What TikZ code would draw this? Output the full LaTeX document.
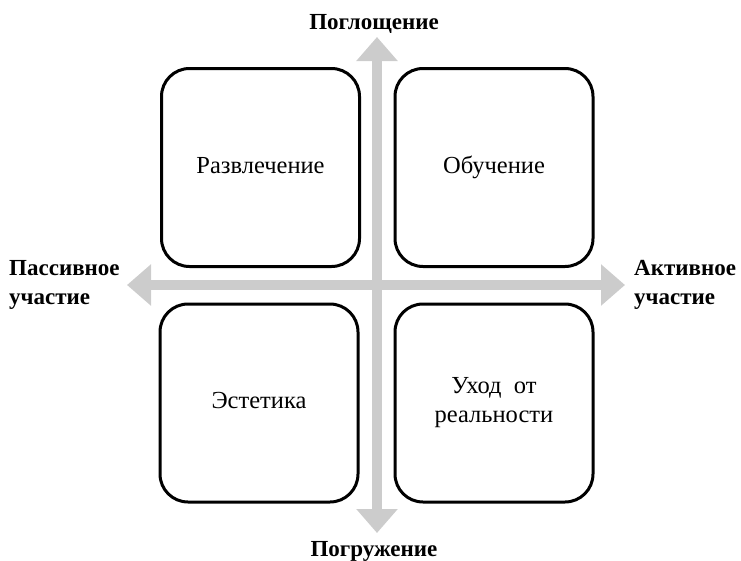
\documentclass[tikz,border=0pt]{standalone}
\usepackage{fontspec}
\setmainfont{Liberation Serif}
\usetikzlibrary{arrows.meta}
\definecolor{axisgray}{HTML}{CCCCCC}
\tikzset{
  quad/.style={draw=black, line width=3pt, rounded corners=28pt, minimum width=198pt, minimum height=198pt, align=center, font=\fontsize{24.5}{29}\selectfont, inner sep=0pt},
  oneline/.style={text height=17pt, text depth=6pt},
  axislabel/.style={font=\fontsize{23}{29}\selectfont\bfseries, align=left, inner sep=0pt},
  axisarrow/.style={draw=axisgray, line width=10pt, {Triangle[width=40pt,length=24pt]}-{Triangle[width=40pt,length=24pt]}}
}
\begin{document}
\begin{tikzpicture}[x=1pt,y=-1pt]
\useasboundingbox (0,0) rectangle (741,560);
\coordinate (top) at (377,37);
\coordinate (bottom) at (377,533);
\coordinate (left) at (127,285);
\coordinate (right) at (625,285);
\draw[axisarrow] (left) -- (right);
\draw[axisarrow] (top) -- (bottom);
\node[quad, oneline] (ent) at (260.5,167.5) {Развлечение};
\node[quad, oneline] (edu) at (494,167.5) {Обучение};
\node[quad, oneline] (aes) at (259,403) {Эстетика};
\node[quad] (esc) at (494,403) {Уход\ \ от\\реальности};
\node[axislabel] (absorb) at (374,24) {Поглощение};
\node[axislabel] (immerse) at (374,551) {Погружение};
\node[axislabel, anchor=west] (passive) at (9,285) {Пассивное\\участие};
\node[axislabel, anchor=west] (active) at (634,285) {Активное\\участие};
\end{tikzpicture}
\end{document}
